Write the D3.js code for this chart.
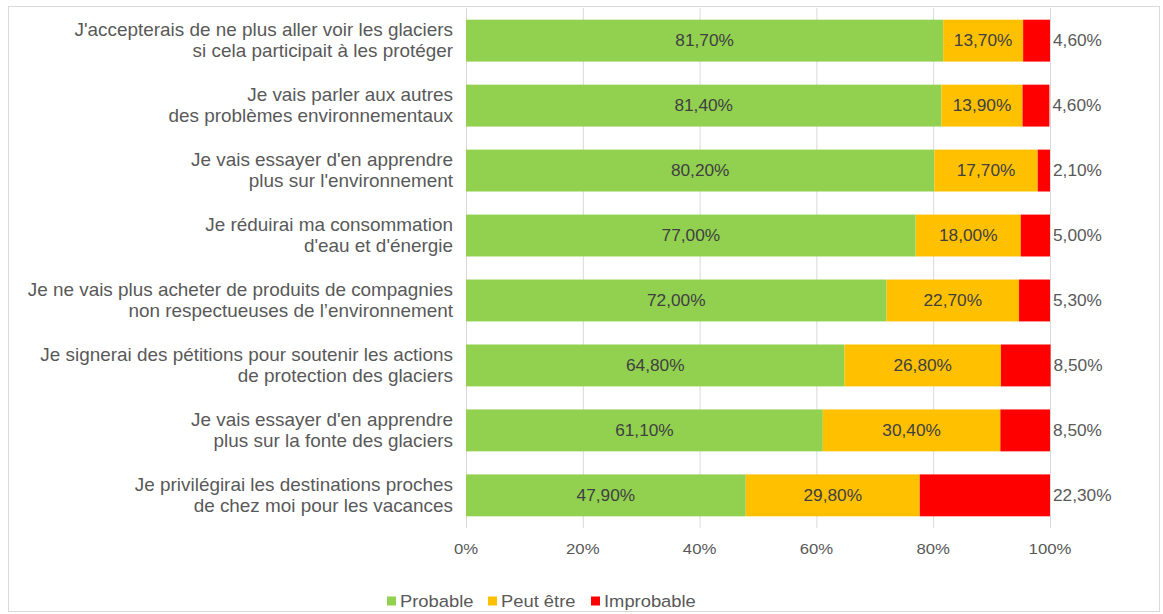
<!DOCTYPE html>
<html lang="fr">
<head>
<meta charset="UTF-8">
<title>Glaciers</title>
<script src="https://d3js.org/d3.v7.min.js"></script>
<style>
  body, html { margin: 0; padding: 0; background: #fff; }
  svg text { font-family: "Liberation Sans", Arial, sans-serif; }
</style>
</head>
<body>
<div id="chart"></div>
<script>
// categories (two lines each)
const categories = [
  ["J'accepterais de ne plus aller voir les glaciers", "si cela participait à les protéger"],
  ["Je vais parler aux autres", "des problèmes environnementaux"],
  ["Je vais essayer d'en apprendre", "plus sur l'environnement"],
  ["Je réduirai ma consommation", "d'eau et d'énergie"],
  ["Je ne vais plus acheter de produits de compagnies", "non respectueuses de l’environnement"],
  ["Je signerai des pétitions pour soutenir les actions", "de protection des glaciers"],
  ["Je vais essayer d'en apprendre", "plus sur la fonte des glaciers"],
  ["Je privilégirai les destinations proches", "de chez moi pour les vacances"]
];
const probable   = [81.7, 81.4, 80.2, 77.0, 72.0, 64.8, 61.1, 47.9];
const peutEtre   = [13.7, 13.9, 17.7, 18.0, 22.7, 26.8, 30.4, 29.8];
const improbable = [4.6, 4.6, 2.1, 5.0, 5.3, 8.5, 8.5, 22.3];
const seriesNames = ["Probable", "Peut être", "Improbable"];
const ticks = [0, 20, 40, 60, 80, 100];

const colors = ["#92D050", "#FFC000", "#FF0000"];
const W = 1163, H = 614;
const SX = 1.08; // text in the original is a little wider
const fmt = v => v.toFixed(2).replace(".", ",") + "%";
const place = (px, py) => `translate(${px},${py}) scale(${SX},1)`;

const svg = d3.select("#chart").append("svg")
  .attr("width", W).attr("height", H);

svg.append("rect")
  .attr("x", 8.5).attr("y", 6.5).attr("width", 1151).attr("height", 605)
  .attr("fill", "#fff").attr("stroke", "#d9d9d9").attr("stroke-width", 1);

const x = d3.scaleLinear().domain([0, 100]).range([466, 1050]);
const y = d3.scaleBand().domain(d3.range(categories.length)).range([8, 528]).paddingInner(0.355).paddingOuter(0.18);

// grid
svg.append("g").selectAll("line").data(ticks).join("line")
  .attr("x1", d => x(d) + 0.5).attr("x2", d => x(d) + 0.5)
  .attr("y1", 8).attr("y2", 528)
  .attr("stroke", "#d9d9d9").attr("stroke-width", 1);

// stacked data
const rows = categories.map((c, i) => ({ i, vals: [probable[i], peutEtre[i], improbable[i]] }));
const stack = d3.stack().keys([0, 1, 2]).value((d, k) => d.vals[k]);
const layers = stack(rows);

layers.forEach((layer, k) => {
  const g = svg.append("g");
  g.selectAll("rect").data(layer).join("rect")
    .attr("x", d => x(d[0]))
    .attr("width", d => x(d[1]) - x(d[0]))
    .attr("y", d => y(d.data.i))
    .attr("height", y.bandwidth())
    .attr("fill", colors[k]);

  g.selectAll("text").data(layer).join("text")
    .attr("transform", d => place(
      k === 2 ? x(d[1]) + 3 : (x(d[0]) + x(d[1])) / 2,
      y(d.data.i) + y.bandwidth() / 2))
    .attr("dy", "0.35em")
    .attr("text-anchor", k === 2 ? "start" : "middle")
    .attr("font-size", 16)
    .attr("fill", k === 2 ? "#595959" : "#404040")
    .text(d => fmt(d.data.vals[k]));
});

// category labels
svg.append("g").selectAll("g").data(categories).join("g")
  .attr("transform", (d, i) => place(453, y(i) + y.bandwidth() / 2))
  .each(function (d) {
    const g = d3.select(this);
    d.forEach((line, j) => {
      g.append("text").attr("y", j === 0 ? -10.5 : 10.5).attr("dy", "0.35em")
        .attr("text-anchor", "end").attr("font-size", 17.5).attr("fill", "#595959")
        .text(line);
    });
  });

// x axis labels
svg.append("g").selectAll("text").data(ticks).join("text")
  .attr("transform", d => place(x(d), 549))
  .attr("dy", "0.35em")
  .attr("text-anchor", "middle").attr("font-size", 15.5)
  .attr("fill", "#595959")
  .text(d => d + "%");

// legend
const legX = [387, 488, 591];
const leg = svg.append("g").selectAll("g").data(seriesNames).join("g")
  .attr("transform", (d, i) => `translate(${legX[i]},601)`);
leg.append("rect").attr("x", 0).attr("y", -4.5).attr("width", 9).attr("height", 9)
  .attr("fill", (d, i) => colors[i]);
leg.append("text").attr("transform", place(13, 0)).attr("dy", "0.35em")
  .attr("font-size", 17).attr("fill", "#595959").text(d => d);
</script>
</body>
</html>
